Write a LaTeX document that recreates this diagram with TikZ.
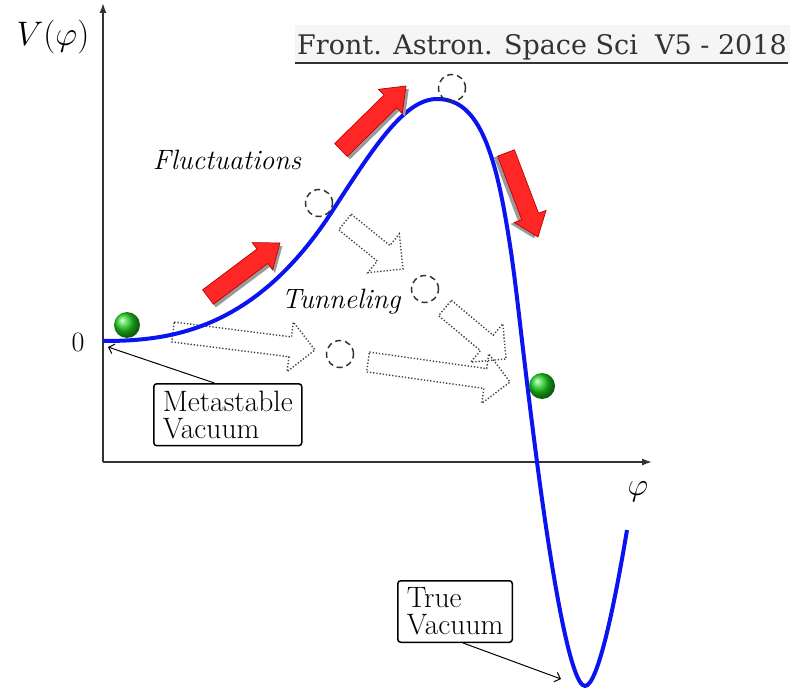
\RequirePackage{fix-cm}
\documentclass[tikz,border=0pt]{standalone}
\usepackage{fontspec}
\newfontfamily\titlefont{DejaVu Serif}
\usetikzlibrary{calc,arrows.meta,shadings}
\definecolor{titlebg}{HTML}{F5F5F5}
\definecolor{titlegray}{HTML}{333333}
\definecolor{shadowgray}{HTML}{9A9A9A}
\definecolor{curveblue}{HTML}{0A14F0}
\definecolor{ballgreen}{HTML}{1FD01F}
\newcommand\blockarr[6]{%
  \coordinate (bT) at #2;
  \coordinate (bH) at #3;
  \coordinate (bN) at ($(bH)!#6!(bT)$);
  \path[#1] ($(bT)!#4!90:(bH)$) -- ($(bN)!#4!-90:(bT)$) -- ($(bN)!#5!-90:(bT)$) -- (bH)
     -- ($(bN)!#5!90:(bT)$) -- ($(bN)!#4!90:(bT)$) -- ($(bT)!#4!-90:(bH)$) -- cycle;
}
\newcommand\redarr[2]{%
  \coordinate (rT) at #1;
  \coordinate (rH) at #2;
  \blockarr{fill=shadowgray}{($(rT)!4pt!-90:(rH)$)}{($(rH)!4pt!90:(rT)$)}{9pt}{17pt}{22pt}
  \blockarr{redarrow}{(rT)}{(rH)}{9pt}{17pt}{22pt}
}
\begin{document}
\begin{tikzpicture}[x=1pt,y=-1pt,
  axis/.style={draw=titlegray, line width=1.4pt, -{Latex[length=10pt,width=7pt]}},
  lbl/.style={inner sep=0pt, font=\fontsize{27}{27}\selectfont},
  itlbl/.style={inner sep=0pt, font=\fontsize{28}{28}\selectfont\itshape},
  vbox/.style={draw, rounded corners=3pt, line width=1.5pt, align=left, inner xsep=9pt, inner ysep=7pt,
     font=\fontsize{29.5}{27}\selectfont},
  conn/.style={line width=1pt, -{Straight Barb[length=5pt,width=10pt]}},
  ghost/.style={circle, draw=titlegray, line width=1.5pt, dash pattern=on 6pt off 4pt, minimum size=27pt, inner sep=0pt},
  ball/.style={circle, minimum size=26pt, inner sep=0pt, shading=ball, ball color=ballgreen},
  tunnel/.style={draw=gray!50!black, line width=1.4pt, dash pattern=on 1.3pt off 1.9pt},
  redarrow/.style={fill=red!85!white, draw=red!75!black, line width=0.7pt},
  curve/.style={draw=curveblue, line width=4pt, line join=round}
]
\useasboundingbox (0,0) rectangle (790,690);

% title
\fill[titlebg] (295,25) rectangle (790,62);
\node[anchor=base west, inner sep=0pt, text=titlegray, font=\titlefont\fontsize{27}{27}\selectfont] (title) at (297,55)
  {Front. Astron. Space Sci\ \ V5 - 2018};
\draw[titlegray, line width=1.5pt] (295,63) -- (788,63);

% axes
\coordinate (O) at (103,462);
\coordinate (ytop) at (103,3);
\coordinate (xend) at (652,462);
\draw[axis] (O) -- (ytop);
\draw[axis] (O) -- (xend);
\node[lbl, font=\fontsize{34}{34}\selectfont] (Vlab) at (53,37) {$V(\varphi)$};
\node[lbl, font=\fontsize{28}{28}\selectfont] (zero) at (78,342) {$0$};
\node[lbl, font=\fontsize{32}{32}\selectfont] (philab) at (638,492) {$\varphi$};

% tunneling arrows
\blockarr{tunnel}{(173,332)}{(315,350)}{10pt}{25pt}{25pt}
\blockarr{tunnel}{(368,362)}{(510,382)}{10pt}{25pt}{25pt}
\blockarr{tunnel}{(345,222)}{(403,269)}{10pt}{25pt}{25pt}
\blockarr{tunnel}{(445,308)}{(506,359)}{10pt}{25pt}{25pt}

% potential
\draw[curve] (103,341) .. controls (170,341) and (255,331) .. (333,210)
  .. controls (375,145) and (405,99) .. (437,99)
  .. controls (470,99) and (490,130) .. (505,215)
  .. controls (517,283) and (517,308) .. (537,462)
  .. controls (550,562) and (570,686) .. (585,686)
  .. controls (598,686) and (615,602) .. (627,530);

% fluctuation arrows
\redarr{(208,297)}{(280,243)}
\redarr{(341,150)}{(406,86)}
\redarr{(506,153)}{(538,237)}

% ghost positions
\node[ghost] (g1) at (319,203) {};
\node[ghost] (g2) at (452,88) {};
\node[ghost] (g3) at (425,289) {};
\node[ghost] (g4) at (340,354) {};

% balls
\node[ball] (b1) at (127,325) {};
\node[ball] (b2) at (542,386) {};

% labels
\node[itlbl] (fluct) at (227,160) {Fluctuations};
\node[itlbl] (tunn) at (341,302) {Tunneling};

\node[vbox, anchor=north west] (meta) at (153,383) {Metastable\\Vacuum};
\node[vbox, anchor=north west] (tv) at (397,580) {True\\Vacuum};
\coordinate (metaTip) at (108,347);
\coordinate (tvTip) at (561,679);
\draw[conn] ($(meta.north west)!0.41!(meta.north east)$) -- (metaTip);
\draw[conn] ($(tv.south west)!0.57!(tv.south east)$) -- (tvTip);
\end{tikzpicture}
\end{document}
